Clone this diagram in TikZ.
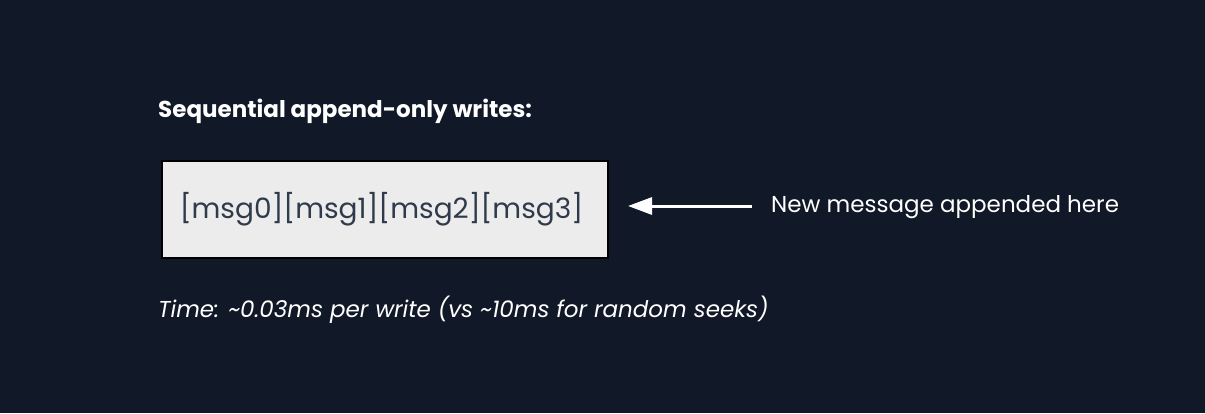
\documentclass[tikz,border=0pt]{standalone}
\usepackage{fontspec}
\setmainfont{Poppins}
\usetikzlibrary{arrows.meta}
\definecolor{bg}{HTML}{111827}
\definecolor{boxfill}{HTML}{ECECEC}
\definecolor{boxtext}{HTML}{2F3A4A}
\tikzset{
  lbl/.style={text=white, inner sep=0pt, anchor=base west},
  logbox/.style={draw=black, line width=2pt, fill=boxfill, minimum width=446pt, minimum height=97pt, inner sep=0pt},
  conn/.style={draw=white, line width=3pt, -{Triangle[length=24pt,width=17pt]}}
}
\begin{document}
\begin{tikzpicture}[x=1pt,y=-1pt]
\fill[bg] (0,0) rectangle (1205,413);
\useasboundingbox (0,0) rectangle (1205,413);
\node[lbl, font=\fontsize{23}{27}\selectfont\bfseries] (title) at (158,117) {Sequential append-only writes:};
\node[logbox] (box) at (384.5,209) {};
\node[text=boxtext, inner sep=0pt, font=\fontsize{28}{32}\selectfont] (msgs) at (381.5,209) {[msg0][msg1][msg2][msg3]};
\node[lbl, anchor=west, font=\fontsize{23}{27}\selectfont] (note) at (771,207) {New message appended here};
\coordinate (tail) at (752,206);
\coordinate (head) at (628,206);
\draw[conn] (tail) -- (head);
\node[lbl, font=\fontsize{23}{27}\selectfont\itshape] (time) at (158,317) {Time: \textasciitilde0.03ms per write (vs \textasciitilde10ms for random seeks)};
\end{tikzpicture}
\end{document}
